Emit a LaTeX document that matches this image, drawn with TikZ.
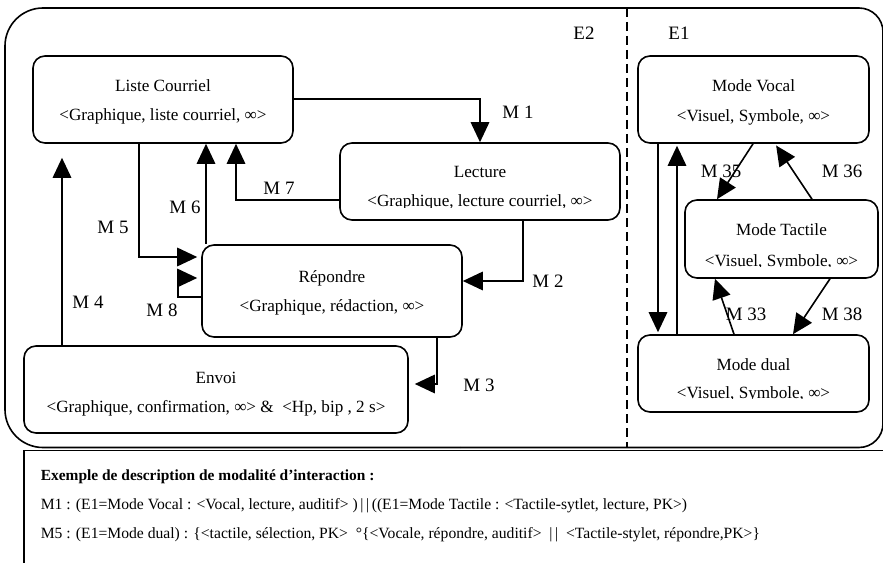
\documentclass[tikz,border=0pt]{standalone}
\usepackage{fontspec}
\setmainfont{Liberation Serif}
\usetikzlibrary{arrows.meta}
\newcommand{\infy}{∞}
\begin{document}
\begin{tikzpicture}[x=1bp,y=-1bp,
  line width=1.6bp,
  box/.style={draw, rounded corners=12bp, line width=1.6bp, inner sep=0pt},
  boxtext/.style={anchor=base, inner sep=0pt, font=\fontsize{17.2}{20}\selectfont},
  lbl/.style={font=\fontsize{19}{22}\selectfont, inner sep=0pt},
  conn/.style={line width=1.6bp, -{Triangle[length=20bp,width=18.5bp]}},
  note/.style={anchor=west, inner sep=0pt, font=\fontsize{15.7}{18}\selectfont}
]
\useasboundingbox (0,0) rectangle (883,563);
\clip (0,0) rectangle (883,563);

% outer frame, left half with wide corners, right half with tighter corners
\draw[rounded corners=38bp] (460,447.5) -- (5,447.5) -- (5,8) -- (460,8);
\draw[rounded corners=24bp] (460,8) -- (883,8) -- (883,447.5) -- (460,447.5);
% separator between the two environments
\draw[dash pattern=on 9bp off 5bp] (627,8) -- (627,448);
% description frame
\draw (900,450.5) -- (24,450.5) -- (24,600);

\node[lbl] (e2) at (584,33) {E2};
\node[lbl] (e1) at (679,33) {E1};

% E2 states
\node[box, minimum width=260bp, minimum height=87bp] (lc) at (163,99.5) {};
\node[boxtext] (lc-a) at (163,92) {Liste Courriel};
\node[boxtext] (lc-b) at (163,121) {<Graphique, liste courriel, \infy>};

\node[box, minimum width=280bp, minimum height=77bp] (le) at (480,181.5) {};
\begin{scope}
  \clip (340,143) rectangle (620,207.8);
  \node[boxtext] (le-a) at (480,178) {Lecture};
  \node[boxtext] (le-b) at (480,207) {<Graphique, lecture courriel, \infy>};
\end{scope}

\node[box, minimum width=260bp, minimum height=92bp] (rp) at (332,291) {};
\node[boxtext] (rp-a) at (332,282) {Répondre};
\node[boxtext] (rp-b) at (332,311) {<Graphique, rédaction, \infy>};

\node[box, minimum width=384bp, minimum height=87bp] (en) at (216,389.5) {};
\node[boxtext] (en-a) at (216,383) {Envoi};
\node[boxtext] (en-b) at (216,412) {<Graphique, confirmation, \infy> \&\ \ <Hp, bip , 2 s>};

% E1 states
\node[box, minimum width=231bp, minimum height=87bp] (mv) at (753.5,99.5) {};
\node[boxtext] (mv-a) at (753.5,92) {Mode Vocal};
\node[boxtext] (mv-b) at (753.5,122) {<Visuel, Symbole, \infy>};

\node[box, minimum width=193bp, minimum height=78bp] (mt) at (781.5,239) {};
\begin{scope}
  \clip (685,200) rectangle (878,266.8);
  \node[boxtext] (mt-a) at (781.5,236) {Mode Tactile};
  \node[boxtext] (mt-b) at (781.5,266) {<Visuel, Symbole, \infy>};
\end{scope}

\node[box, minimum width=231bp, minimum height=77bp] (md) at (753.5,373.5) {};
\begin{scope}
  \clip (638,335) rectangle (869,398.8);
  \node[boxtext] (md-a) at (753.5,370) {Mode dual};
  \node[boxtext] (md-b) at (753.5,398) {<Visuel, Symbole, \infy>};
\end{scope}

% E2 transitions
\draw[conn] (lc.east |- 0,99) -| (le.north);
\draw[conn] (le.south -| 523,0) |- (rp.east |- 0,281);
\draw[conn, shorten >=6bp] (rp.south -| 437,0) |- (en.east |- 0,384);
\draw[conn, shorten >=14bp] (en.north -| 62,0) -- (lc.south -| 62,0);
\draw[conn, shorten >=4bp] (lc.south -| 139,0) |- (rp.west |- 0,257);
\draw[conn] (rp.north -| 206,0) -- (lc.south -| 206,0);
\draw[conn] (le.west |- 0,200) -| (lc.south -| 236,0);
\draw[conn, shorten >=4bp] (rp.west |- 0,297) -- (178,297) -- (178,278) -- (rp.west |- 0,278);

\node[lbl] (m1) at (518,112) {M 1};
\node[lbl] (m2) at (548,281) {M 2};
\node[lbl] (m3) at (479,385) {M 3};
\node[lbl] (m4) at (88,302) {M 4};
\node[lbl] (m5) at (113,227) {M 5};
\node[lbl] (m6) at (185,207) {M 6};
\node[lbl] (m7) at (279,188) {M 7};
\node[lbl] (m8) at (162,310) {M 8};

% E1 transitions
\draw[conn, shorten >=2bp] (mv.south -| 658,0) -- (md.north -| 658,0);
\draw[conn, shorten >=2bp] (md.north -| 677,0) -- (mv.south -| 677,0);
\draw[conn] (mv.south -| 753,0) -- (mt.north -| 717,0);
\draw[conn, shorten >=2bp] (mt.north -| 812,0) -- (mv.south -| 775,0);
\draw[conn] (md.north -| 734,0) -- (mt.south -| 715,0);
\draw[conn] (mt.south -| 830,0) -- (md.north -| 793,0);

\node[lbl] (m35) at (721,171) {M 35};
\node[lbl] (m36) at (842,171) {M 36};
\node[lbl] (m33) at (746,314) {M 33};
\node[lbl] (m38) at (842,314) {M 38};

% example of an interaction modality description
\node[note, font=\fontsize{15.5}{18}\selectfont\bfseries] (ex) at (40,477)
  {Exemple de description de modalité d’interaction :};
\node[note] (ex1) at (40,506)
  {M1 : (E1=Mode Vocal : <Vocal, lecture, auditif> )\,|\,|\,((E1=Mode Tactile : <Tactile-sytlet, lecture, PK>)};
\node[note] (ex5) at (40,535)
  {M5 : (E1=Mode dual) : \{<tactile, sélection, PK>\ \ °\{<Vocale, répondre, auditif>\ \ |\,|\ \ <Tactile-stylet, répondre,PK>\}};
\end{tikzpicture}
\end{document}
